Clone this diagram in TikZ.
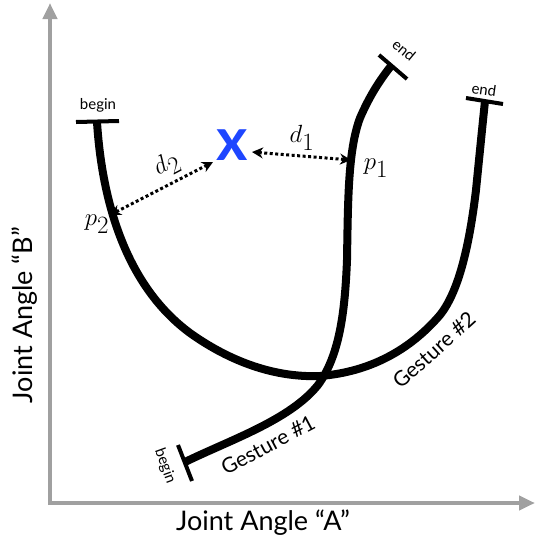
\documentclass[tikz,border=0pt]{standalone}
\usepackage{fontspec}
\setmainfont{Lato}
\usetikzlibrary{arrows.meta}
\definecolor{axisgray}{RGB}{160,160,160}
\definecolor{xblue}{RGB}{30,70,255}
\tikzset{
  axisline/.style={axisgray,line width=4pt,-{Triangle[length=16pt,width=14pt]}},
  gesture/.style={black,line width=8pt,line cap=butt,line join=round},
  tickbar/.style={black,line width=4pt},
  smalllbl/.style={font=\fontsize{15}{17}\selectfont,inner sep=0pt},
  gestlbl/.style={font=\fontsize{21}{24}\selectfont,inner sep=0pt},
  axislbl/.style={font=\fontsize{27}{31}\selectfont,inner sep=0pt},
  mathlbl/.style={font=\fontsize{34}{38}\selectfont,inner sep=0pt},
  distarrow/.style={line width=3pt,dash pattern=on 3pt off 2.5pt,{Stealth[length=11pt,width=11pt]}-{Stealth[length=11pt,width=11pt]}},
}
\begin{document}
\begin{tikzpicture}[x=1pt,y=-1pt]
\useasboundingbox (0,0) rectangle (538,542);
% axes
\coordinate (O) at (50,503);
\coordinate (Ytop) at (50,3);
\coordinate (Xend) at (535,503);
\draw[axisline] (50,505) -- (Ytop);
\draw[axisline] (48,503) -- (Xend);
\node[axislbl] (xl) at (263,523) {Joint Angle “A”};
\node[axislbl,rotate=90] (yl) at (25,315) {Joint Angle “B”};
% gesture 2
\coordinate (g2b) at (97,122);
\coordinate (g2e) at (485,101);
\draw[gesture] (g2b) .. controls (102,200) and (125,285) .. (190,333)
  .. controls (225,358) and (270,378) .. (320,376)
  .. controls (370,372) and (410,350) .. (440,315)
  .. controls (460,290) and (470,240) .. (476,190)
  .. controls (480,150) and (483,120) .. (g2e);
\draw[tickbar] (76,122) -- (119,121);
\draw[tickbar] (466,98) -- (503,104);
\node[smalllbl] (b2) at (98,105) {begin};
\node[smalllbl,rotate=-8] (e2) at (484,90) {end};
% gesture 1
\coordinate (g1b) at (185,462);
\coordinate (g1e) at (391,66);
\draw[gesture] (g1b) .. controls (230,440) and (290,420) .. (318,385)
  .. controls (340,355) and (345,310) .. (347,260)
  .. controls (348,200) and (348,150) .. (360,118)
  .. controls (370,95) and (380,80) .. (g1e);
\draw[tickbar] (178,445) -- (192,481);
\draw[tickbar] (379,55) -- (407,79);
\node[smalllbl,rotate=-70] (b1) at (165,466) {begin};
\node[smalllbl,rotate=-40] (e1) at (404,50) {end};
% labels
\node[gestlbl,rotate=28] (gl1) at (268,445) {Gesture \#1};
\node[gestlbl,rotate=42] (gl2) at (434,350) {Gesture \#2};
% x point
\node[text=xblue,font=\fontsize{60}{60}\selectfont\bfseries,inner sep=0pt] (xp) at (232,145) {x};
\coordinate (p1) at (351,160);
\coordinate (p2) at (110,215);
\draw[distarrow] (252,152) -- (p1);
\draw[distarrow] (213,162) -- (p2);
\node[mathlbl] (d1) at (302,138) {$d_1$};
\node[mathlbl] (p1l) at (376,168) {$p_1$};
\node[mathlbl,rotate=28] (d2) at (167,165) {$d_2$};
\node[mathlbl] (p2l) at (97,224) {$p_2$};
\end{tikzpicture}
\end{document}
